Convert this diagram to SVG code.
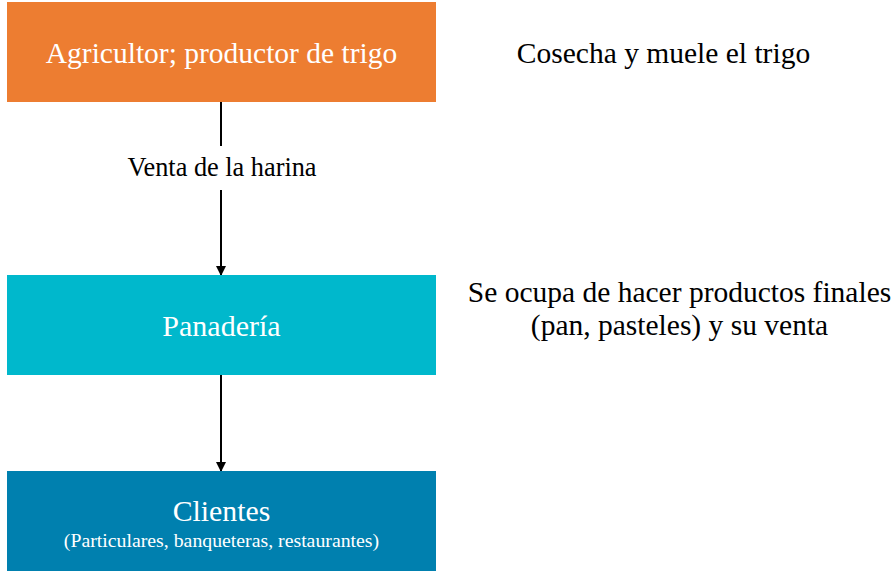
<svg xmlns="http://www.w3.org/2000/svg" width="894" height="571" viewBox="0 0 894 571">
<defs>
<style>
text{font-family:'Liberation Serif','Times New Roman',serif;text-anchor:middle}
.w{fill:#ffffff}
.k{fill:#000000}
.c{stroke:#000;stroke-width:2;fill:none}
</style>
<marker id="ah" markerWidth="10" markerHeight="10" refX="9" refY="5" orient="auto" markerUnits="userSpaceOnUse">
<path d="M0,0 L10,5 L0,10 z" fill="#000"/>
</marker>
</defs>
<rect width="894" height="571" fill="#fff"/>
<g id="connectors">
<line class="c" x1="221" y1="102" x2="221" y2="146"/>
<line class="c" x1="221" y1="190" x2="221" y2="275" marker-end="url(#ah)"/>
<line class="c" x1="221" y1="375" x2="221" y2="471" marker-end="url(#ah)"/>
<text class="k" x="222" y="176" font-size="26.3">Venta de la harina</text>
</g>
<g id="agricultor">
<rect x="7" y="2" width="429" height="100" fill="#ED7D31"/>
<text class="w" x="221.5" y="63" font-size="29.5">Agricultor; productor de trigo</text>
</g>
<g id="panaderia">
<rect x="7" y="275" width="429" height="100" fill="#00B8CC"/>
<text class="w" x="221.5" y="336" font-size="30">Panadería</text>
</g>
<g id="clientes">
<rect x="7" y="471" width="429" height="100" fill="#0080AF"/>
<text class="w" x="221.5" y="521" font-size="29.8">Clientes</text>
<text class="w" x="221.5" y="546.5" font-size="19.8">(Particulares, banqueteras, restaurantes)</text>
</g>
<g id="nota1">
<text class="k" x="663.5" y="63" font-size="29.5">Cosecha y muele el trigo</text>
</g>
<g id="nota2">
<text class="k" x="679.5" y="302" font-size="29.5">Se ocupa de hacer productos finales</text>
<text class="k" x="679.5" y="335" font-size="29.5">(pan, pasteles) y su venta</text>
</g>
</svg>
